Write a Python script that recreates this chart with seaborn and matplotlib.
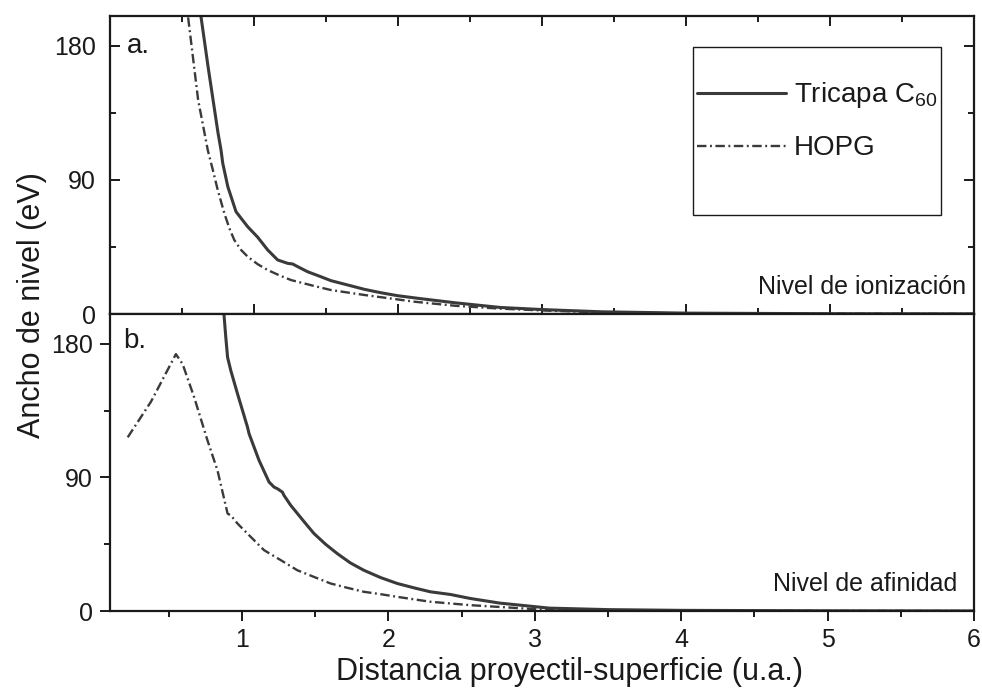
import numpy as np
import pandas as pd
import matplotlib
matplotlib.use("Agg")
import matplotlib.pyplot as plt
from matplotlib.patches import Rectangle
from matplotlib.ticker import MultipleLocator
import seaborn as sns

# panel a: nivel de ionizacion
ion_x_tricapa = [0.615, 0.632, 0.681, 0.75, 0.771, 0.783, 0.818, 0.875, 0.91, 0.956, 1.026, 1.095,
                 1.164, 1.234, 1.268, 1.303, 1.372, 1.465, 1.534, 1.65, 1.765, 1.88, 1.997, 2.158,
                 2.4, 2.71, 3.0, 3.41, 4.0, 5.0, 6.0]
ion_y_tricapa = [215, 199.5, 166, 121.6, 110, 101.2, 85.5, 68.7, 64.3, 58.6, 51.5, 43,
                 36.3, 34, 33.6, 31.8, 28.4, 25, 22.4, 19.5, 16.6, 14.3, 12.3, 10.3,
                 7.5, 4.4, 3.0, 1.5, 0.6, 0.2, 0.1]
ion_x_hopg = [0.53, 0.542, 0.612, 0.679, 0.714, 0.748, 0.794, 0.829, 0.863, 0.91, 0.956, 1.026,
              1.095, 1.187, 1.257, 1.418, 1.534, 1.765, 1.997, 2.11, 2.4, 2.71, 3.0, 3.41,
              4.0, 5.0, 6.0]
ion_y_hopg = [215, 199.5, 143.7, 110, 96.7, 83.3, 67.6, 57.5, 49.7, 43, 38.5, 33.4,
              29.5, 25.5, 22.8, 18.8, 16.1, 12.8, 9.8, 8.3, 5.5, 3.6, 2.4, 1.1,
              0.4, 0.15, 0.05]

# panel b: nivel de afinidad
af_x_tricapa = [0.87, 0.879, 0.891, 0.903, 0.925, 0.971, 1.039, 1.05, 1.118, 1.186, 1.22, 1.243,
                1.277, 1.288, 1.334, 1.436, 1.493, 1.572, 1.652, 1.742, 1.833, 1.947, 2.061, 2.174,
                2.287, 2.424, 2.56, 2.76, 3.1, 3.5, 4.0, 5.0, 6.0]
af_y_tricapa = [210, 198.8, 184, 170.8, 161.9, 146.2, 123.8, 119.3, 101.4, 86.9, 83.5, 82.4,
                80.1, 77.9, 71.2, 58.9, 52.2, 45, 38.7, 32.4, 27.5, 22.6, 18.6, 15.7,
                13, 11.2, 8.5, 5.4, 2.0, 1.0, 0.5, 0.2, 0.1]
af_x_hopg = [0.221, 0.38, 0.55, 0.596, 0.675, 0.766, 0.834, 0.903, 0.925, 0.971, 1.016, 1.084,
             1.152, 1.266, 1.379, 1.493, 1.606, 1.72, 1.833, 1.947, 2.061, 2.287, 2.56, 3.1,
             4.0, 6.0]
af_y_hopg = [117, 141, 173, 166.3, 143.9, 114.8, 94.7, 65.6, 64.5, 58.9, 54.4, 47.7,
             41, 34.3, 27.5, 23, 18.6, 15.7, 13, 11.4, 9.6, 6.3, 4, 0.7,
             0.2, 0.05]

series_labels = ["Tricapa C$_{60}$", "HOPG"]
y_ticks = [0, 90, 180]

sns.set_theme(style="ticks")
plt.rcParams["font.family"] = ["Liberation Sans", "DejaVu Sans"]
plt.rcParams["mathtext.fontset"] = "custom"
plt.rcParams["mathtext.rm"] = "Liberation Sans"
plt.rcParams["mathtext.it"] = "Liberation Sans:italic"

ink = "#1a1a1a"
line_col = "#3a3a3a"
hopg_dash = (0, (4, 1.5, 0.8, 1.5))

fig = plt.figure(figsize=(9.82, 7.0), dpi=100)
ax_a = fig.add_axes([0.112, 0.5514, 0.880, 0.4257])
ax_b = fig.add_axes([0.112, 0.127, 0.880, 0.4244])

sns.lineplot(x=ion_x_tricapa, y=ion_y_tricapa, ax=ax_a, color=line_col, lw=2.2,
             label=series_labels[0], sort=False)
sns.lineplot(x=ion_x_hopg, y=ion_y_hopg, ax=ax_a, color=line_col, lw=1.7,
             linestyle=hopg_dash, label=series_labels[1], sort=False)
sns.lineplot(x=af_x_tricapa, y=af_y_tricapa, ax=ax_b, color=line_col, lw=2.2,
             sort=False, legend=False)
sns.lineplot(x=af_x_hopg, y=af_y_hopg, ax=ax_b, color=line_col, lw=1.7,
             linestyle=hopg_dash, sort=False, legend=False)

for ax in (ax_a, ax_b):
    ax.set_ylim(0, 200)
    ax.set_yticks(y_ticks)
    ax.yaxis.set_minor_locator(MultipleLocator(45))
    ax.xaxis.set_major_locator(MultipleLocator(1))
    ax.xaxis.set_minor_locator(MultipleLocator(0.5))
    ax.set_xlabel("")
    ax.set_ylabel("")
    for sp in ax.spines.values():
        sp.set_visible(True)
        sp.set_linewidth(1.6)
        sp.set_color(ink)

ax_a.set_xlim(0, 6)
ax_b.set_xlim(0.1, 6)

ax_a.tick_params(which="both", direction="in", top=True, right=True, labelbottom=False,
                 width=1.4, color=ink, labelsize=18, labelcolor=ink, pad=10)
ax_a.tick_params(which="major", length=7.5)
ax_a.tick_params(which="minor", length=4)

ax_b.tick_params(which="both", direction="out", top=False, right=False,
                 width=1.4, color=ink, labelsize=18, labelcolor=ink)
ax_b.tick_params(which="major", length=7.5, pad=5)
ax_b.tick_params(which="minor", length=4)
ax_b.set_xticks([1, 2, 3, 4, 5, 6])

# legend box
ax_a.add_patch(Rectangle((0.675, 0.332), 0.287, 0.564, transform=ax_a.transAxes,
                         fill=False, edgecolor=ink, lw=1.0, zorder=5))
leg = ax_a.legend(loc="center left", bbox_to_anchor=(0.679, 0.648), frameon=False,
                  fontsize=20, handlelength=3.2, handletextpad=0.3, labelspacing=0.9,
                  borderpad=0, borderaxespad=0)
for t in leg.get_texts():
    t.set_color(ink)

ax_a.text(0.02, 0.9, "a.", transform=ax_a.transAxes, fontsize=20, color=ink,
          ha="left", va="center")
ax_b.text(0.015, 0.91, "b.", transform=ax_b.transAxes, fontsize=20, color=ink,
          ha="left", va="center")
ax_a.text(0.991, 0.05, "Nivel de ionización", transform=ax_a.transAxes, fontsize=18,
          color=ink, ha="right", va="bottom")
ax_b.text(0.98, 0.05, "Nivel de afinidad", transform=ax_b.transAxes, fontsize=18,
          color=ink, ha="right", va="bottom")

fig.text(570 / 982, 1 - 672 / 700, "Distancia proyectil-superficie (u.a.)", fontsize=22,
         color=ink, ha="center", va="center")
fig.text(32 / 982, 1 - 305 / 700, "Ancho de nivel (eV)", fontsize=22, color=ink,
         rotation=90, ha="center", va="center")

fig.savefig("out.png", dpi=100, facecolor="white")
